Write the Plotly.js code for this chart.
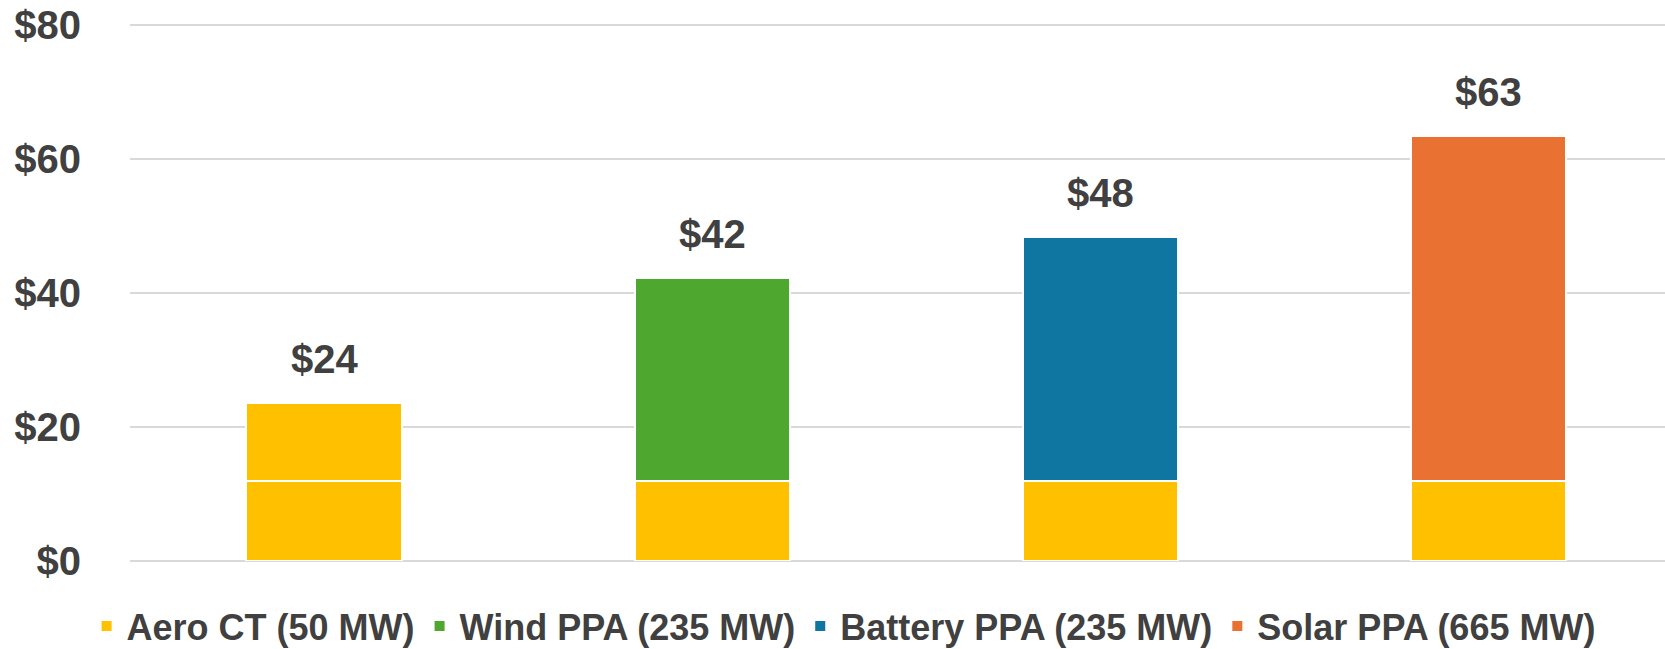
<!DOCTYPE html>
<html>
<head>
<meta charset="utf-8">
<script src="https://cdn.plot.ly/plotly-3.0.1.min.js"></script>
<style>html,body{margin:0;padding:0;background:#fff;}#chart{width:1665px;height:649px;}</style>
</head>
<body>
<div id="chart"></div>
<script>
// Data
const categories = ["Aero CT", "Wind PPA", "Battery PPA", "Solar PPA"];
const seriesNames = ["Aero CT (50 MW)", "Wind PPA (235 MW)", "Battery PPA (235 MW)", "Solar PPA (665 MW)"];
const seriesColors = ["#FFC000", "#4EA72E", "#0E76A0", "#E97132"];
const baseValues = [11.9, 11.9, 11.9, 11.9];      // Aero CT base in every bar
const aeroTop = [11.7, null, null, null];
const windTop = [null, 30.4, null, null];
const batteryTop = [null, null, 36.5, null];
const solarTop = [null, null, null, 51.5];
const yTickVals = [0, 20, 40, 60, 80];
const yTickText = ["$0", "$20", "$40", "$60", "$80"];

const totals = categories.map((c, i) =>
  baseValues[i] + ([aeroTop, windTop, batteryTop, solarTop].reduce((s, arr) => s + (arr[i] || 0), 0)));

const textColor = "#404040";
const font = "Liberation Sans, Arial, sans-serif";
const barWidth = 0.4;
const lineStyle = {color: "#ffffff", width: 2};

const traces = [
  {type: "bar", name: seriesNames[0], x: categories, y: baseValues, width: barWidth,
   marker: {color: seriesColors[0], line: lineStyle}, legendgroup: "a", hoverinfo: "y"},
  {type: "bar", name: seriesNames[0], x: categories, y: aeroTop, width: barWidth, showlegend: false,
   marker: {color: seriesColors[0], line: lineStyle}, legendgroup: "a", hoverinfo: "y"},
  {type: "bar", name: seriesNames[1], x: categories, y: windTop, width: barWidth,
   marker: {color: seriesColors[1], line: lineStyle}, hoverinfo: "y"},
  {type: "bar", name: seriesNames[2], x: categories, y: batteryTop, width: barWidth,
   marker: {color: seriesColors[2], line: lineStyle}, hoverinfo: "y"},
  {type: "bar", name: seriesNames[3], x: categories, y: solarTop, width: barWidth,
   marker: {color: seriesColors[3], line: lineStyle}, hoverinfo: "y"}
];

const annotations = categories.map((c, i) => ({
  x: c, y: totals[i], xref: "x", yref: "y",
  text: "$" + Math.round(totals[i]),
  showarrow: false, yanchor: "bottom", yshift: 20,
  font: {family: font, size: 40, color: textColor, weight: "bold"}
}));

const layout = {
  width: 1665, height: 649,
  margin: {l: 130, r: 0, t: 24, b: 88},
  paper_bgcolor: "#ffffff", plot_bgcolor: "#ffffff",
  barmode: "stack",
  font: {family: font, color: textColor},
  xaxis: {
    type: "category", range: [-0.5, 3.454], showticklabels: false, showgrid: false,
    zeroline: false, showline: false, ticks: "", fixedrange: true
  },
  yaxis: {
    range: [0, 80.2], tickvals: yTickVals, ticktext: yTickText,
    showgrid: true, gridcolor: "#d9d9d9", gridwidth: 2,
    zeroline: true, zerolinecolor: "#d9d9d9", zerolinewidth: 2, showline: false,
    ticks: "", ticklabelstandoff: 48,
    tickfont: {family: font, size: 40, color: textColor, weight: "bold"}
  },
  showlegend: true,
  legend: {
    orientation: "h", xref: "container", x: 0.052, xanchor: "left",
    yref: "container", y: (649 - 626) / 649, yanchor: "middle",
    font: {family: font, size: 36, color: textColor, weight: "bold"},
    traceorder: "normal", bgcolor: "rgba(0,0,0,0)"
  },
  annotations: annotations
};

Plotly.newPlot("chart", traces, layout, {staticPlot: true, displayModeBar: false});
</script>
</body>
</html>
